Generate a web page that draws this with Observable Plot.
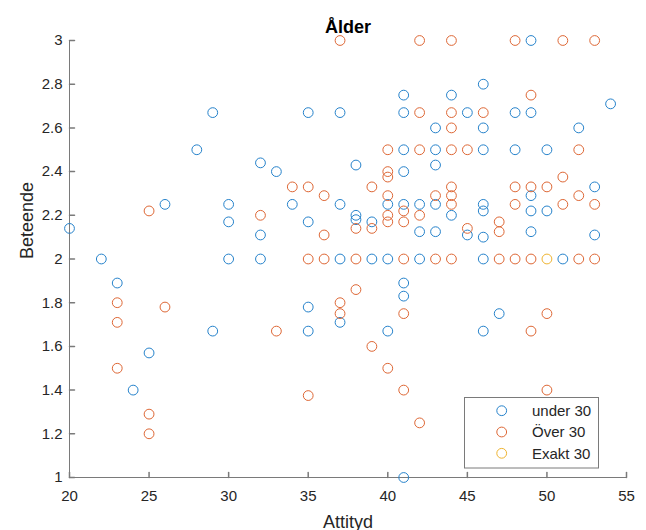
<!DOCTYPE html>
<html><head><meta charset="utf-8">
<script src="https://cdn.jsdelivr.net/npm/d3@7"></script>
<script src="https://cdn.jsdelivr.net/npm/@observablehq/plot@0.6"></script>
<style>body{margin:0;background:#fff} #chart{width:646px;height:530px}</style>
</head><body><div id="chart"></div>
<script>
const groups = ["under 30", "Över 30", "Exakt 30"];
const colors = ["#2582cb", "#de6735", "#efb430"];
const under30 = [[20,2.14],[22,2],[23,1.89],[24,1.4],[25,1.57],[26,2.25],[28,2.5],[29,2.67],[29,1.67],[30,2.25],[30,2.17],[30,2],[32,2.44],[32,2.11],[32,2],[33,2.4],[34,2.25],[35,2.67],[35,2.17],[35,1.78],[35,1.67],[37,2.67],[37,2.25],[37,2],[37,1.71],[38,2.43],[38,2.2],[38,2.18],[39,2.17],[39,2],[40,2.25],[40,2],[40,1.67],[41,2.75],[41,2.67],[41,2.5],[41,2.4],[41,2.25],[41,1.89],[41,1.83],[41,1],[42,2.25],[42,2.125],[42,2],[43,2.6],[43,2.5],[43,2.43],[43,2.25],[43,2.125],[44,2.75],[44,2.2],[45,2.67],[45,2.11],[46,2.8],[46,2.6],[46,2.5],[46,2.25],[46,2.22],[46,2.1],[46,2],[46,1.67],[47,1.75],[48,2.67],[48,2.5],[49,3],[49,2.67],[49,2.29],[49,2.22],[49,2.125],[50,2.5],[50,2.22],[51,2],[52,2.6],[53,2.33],[53,2.11],[54,2.71]];
const over30 = [[23,1.8],[23,1.71],[23,1.5],[25,2.22],[25,1.29],[25,1.2],[26,1.78],[32,2.2],[33,1.67],[34,2.33],[35,2.33],[35,2],[35,1.375],[36,2.29],[36,2.11],[36,2],[37,3],[37,1.8],[37,1.75],[38,2.14],[38,2],[38,1.86],[39,2.33],[39,2.14],[39,1.6],[40,2.5],[40,2.4],[40,2.375],[40,2.29],[40,2.2],[40,2.17],[40,1.5],[41,2.22],[41,2.17],[41,2],[41,1.75],[41,1.4],[42,3],[42,2.67],[42,2.5],[42,2.2],[42,1.25],[43,2.29],[43,2],[44,3],[44,2.67],[44,2.6],[44,2.5],[44,2.33],[44,2.29],[44,2.25],[44,2],[45,2.5],[45,2.14],[46,2.67],[47,2.17],[47,2.125],[47,2],[48,3],[48,2.33],[48,2.25],[48,2],[49,2.75],[49,2.33],[49,2],[49,1.67],[50,2.33],[50,1.75],[50,1.4],[51,3],[51,2.375],[51,2.25],[52,2.5],[52,2.29],[52,2],[53,3],[53,2.25],[53,2]];
const exakt30 = [[50,2]];
const xTicks = [20,25,30,35,40,45,50,55];
const yTicks = [1,1.2,1.4,1.6,1.8,2,2.2,2.4,2.6,2.8,3];
const titleText = "Ålder", xLabel = "Attityd", yLabel = "Beteende";

const rows = [under30, over30, exakt30].flatMap((s, i) => s.map(([x, y]) => ({x, y, group: groups[i]})));
const axisColor = "#7a7a7a";
const textColor = "#262626";
const tickShape = {draw(ctx, l) { ctx.moveTo(0, 0); ctx.lineTo(0, -l); }};

const plot = Plot.plot({
  width: 646, height: 530,
  marginLeft: 69, marginRight: 20, marginTop: 40, marginBottom: 53,
  style: {fontFamily: "'Liberation Sans', Arial, sans-serif", background: "#fff", color: textColor},
  x: {domain: [20, 55]},
  y: {domain: [1, 3]},
  color: {domain: groups, range: colors},
  marks: [
    Plot.axisX(xTicks, {tickSize: 0, tickPadding: 13, fontSize: 15, label: null}),
    Plot.axisY(yTicks, {tickSize: 0, tickPadding: 7, fontSize: 15, label: null, tickFormat: d => String(d)}),
    Plot.ruleY([1], {stroke: axisColor}),
    Plot.ruleX([20], {stroke: axisColor}),
    Plot.vector(xTicks, {x: d => d, frameAnchor: "bottom", length: 5, anchor: "start", shape: tickShape, stroke: axisColor}),
    Plot.vector(yTicks, {y: d => d, frameAnchor: "left", length: 5, rotate: 90, anchor: "start", shape: tickShape, stroke: axisColor}),
    Plot.dot(rows, {x: "x", y: "y", stroke: "group", r: 4.9, strokeWidth: 1}),
    Plot.text([titleText], {frameAnchor: "top", dy: -8, lineAnchor: "bottom", fontSize: 18, fontWeight: "bold", fill: "#000"}),
    Plot.text([xLabel], {frameAnchor: "bottom", dy: 50, lineAnchor: "bottom", fontSize: 18, fill: textColor}),
    Plot.text([yLabel], {frameAnchor: "left", dx: -37, rotate: -90, lineAnchor: "bottom", fontSize: 18, fill: textColor})
  ]
});

// legend box (layout only; entries from groups/colors)
const svg = d3.select(plot);
const lg = svg.append("g").attr("font-family", "'Liberation Sans', Arial, sans-serif").attr("font-size", 15).attr("text-anchor", "start");
lg.append("rect").attr("x", 464.5).attr("y", 397.5).attr("width", 134).attr("height", 70.5)
  .attr("fill", "#fff").attr("stroke", axisColor).attr("stroke-width", 1);
groups.forEach((g, i) => {
  const cy = 410.7 + i * 21.3;
  lg.append("circle").attr("cx", 501.7).attr("cy", cy).attr("r", 4.9)
    .attr("fill", "none").attr("stroke", colors[i]).attr("stroke-width", 1);
  lg.append("text").attr("x", 532).attr("y", cy).attr("dy", "0.35em").attr("text-anchor", "start").attr("fill", textColor).text(g);
});
document.getElementById("chart").appendChild(plot);
</script>
</body></html>
